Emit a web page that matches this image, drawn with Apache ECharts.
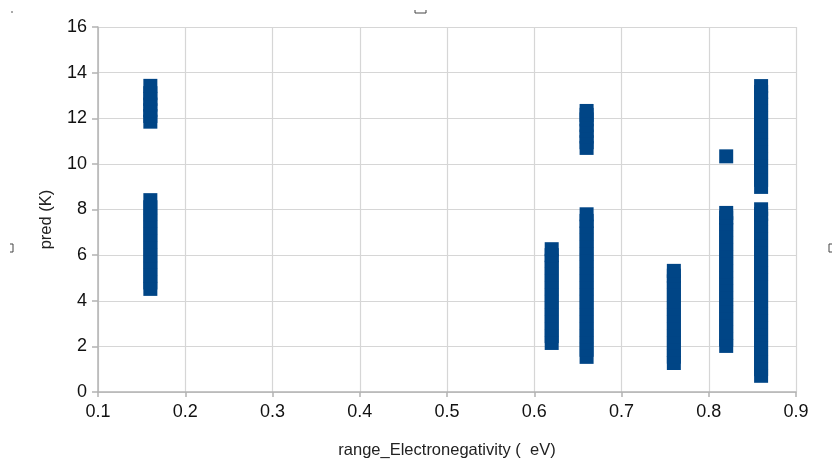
<!DOCTYPE html>
<html>
<head>
<meta charset="utf-8">
<script src="https://cdn.jsdelivr.net/npm/echarts@6/dist/echarts.min.js"></script>
<style>
html,body{margin:0;padding:0;background:#fff;}
#chart{width:832px;height:461px;}
</style>
</head>
<body>
<div id="chart"></div>
<script>
// x positions of the point columns
const columnX = [0.16, 0.16, 0.62, 0.66, 0.66, 0.76, 0.82, 0.82, 0.86, 0.86];
// y values (pred, K) of the points in each column
const col016a = [11.85, 12.1, 12.35, 12.6, 12.85, 13.1, 13.42];
const col016b = [4.52, 4.8, 5.1, 5.4, 5.7, 6.0, 6.3, 6.6, 6.9, 7.2, 7.5, 7.8, 8.1, 8.41];
const col062 = [2.15, 2.45, 2.75, 3.05, 3.35, 3.65, 3.95, 4.25, 4.55, 4.85, 5.15, 5.45, 5.75, 6.0, 6.26];
const col066a = [10.7, 10.95, 11.2, 11.45, 11.7, 11.95, 12.15, 12.32];
const col066b = [1.54, 1.85, 2.15, 2.45, 2.75, 3.05, 3.35, 3.65, 3.95, 4.25, 4.55, 4.85, 5.15, 5.45, 5.75, 6.05, 6.35, 6.65, 6.95, 7.25, 7.5, 7.79];
const col076 = [1.27, 1.55, 1.85, 2.15, 2.45, 2.75, 3.05, 3.35, 3.65, 3.95, 4.25, 4.55, 4.85, 5.1, 5.31];
const col082a = [10.33];
const col082b = [2.02, 2.3, 2.6, 2.9, 3.2, 3.5, 3.8, 4.1, 4.4, 4.7, 5.0, 5.3, 5.6, 5.9, 6.2, 6.5, 6.8, 7.1, 7.4, 7.65, 7.85];
const col086a = [8.99, 9.3, 9.6, 9.9, 10.2, 10.5, 10.8, 11.1, 11.4, 11.7, 12.0, 12.3, 12.6, 12.9, 13.15, 13.41];
const col086b = [0.71, 1.0, 1.3, 1.6, 1.9, 2.2, 2.5, 2.8, 3.1, 3.4, 3.7, 4.0, 4.3, 4.6, 4.9, 5.2, 5.5, 5.8, 6.1, 6.4, 6.7, 7.0, 7.3, 7.6, 7.8, 8.01];
const columnsY = [col016a, col016b, col062, col066a, col066b, col076, col082a, col082b, col086a, col086b];

const xTicks = ['0.1','0.2','0.3','0.4','0.5','0.6','0.7','0.8','0.9'];
const yTicks = ['0','2','4','6','8','10','12','14','16'];
const xName = 'range_Electronegativity (  eV)';
const yName = 'pred (K)';

const points = [];
columnsY.forEach((ys, i) => ys.forEach(y => points.push([columnX[i], y])));

const chart = echarts.init(document.getElementById('chart'), null, {renderer: 'canvas'});
const font = '"Liberation Sans", Arial, sans-serif';
chart.setOption({
  animation: false,
  backgroundColor: '#ffffff',
  grid: {left: 98, right: 36, top: 27, bottom: 69, containLabel: false, outerBoundsMode: 'none'},
  xAxis: {
    type: 'value', min: 0.1, max: 0.9, interval: 0.1,
    name: xName, nameLocation: 'middle', nameGap: 50,
    nameTextStyle: {fontFamily: font, fontSize: 16.5, color: '#222'},
    axisLine: {show: true, onZero: false, lineStyle: {color: '#b3b3b3', width: 1.5}},
    axisTick: {show: true, length: 5, lineStyle: {color: '#b3b3b3', width: 1.5}},
    axisLabel: {fontFamily: font, fontSize: 18, color: '#111', margin: 11,
      formatter: v => xTicks[Math.round((v - 0.1) * 10)]},
    splitLine: {show: true, lineStyle: {color: '#d6d6d6', width: 1.2}}
  },
  yAxis: {
    type: 'value', min: 0, max: 16, interval: 2,
    name: yName, nameLocation: 'middle', nameGap: 43, nameRotate: 90,
    nameTextStyle: {fontFamily: font, fontSize: 16.5, color: '#222', padding: [0, 20, 0, 0]},
    axisLine: {show: true, lineStyle: {color: '#b3b3b3', width: 1.5}},
    axisTick: {show: true, length: 6, lineStyle: {color: '#b3b3b3', width: 1.5}},
    axisLabel: {fontFamily: font, fontSize: 18, color: '#111', margin: 11,
      formatter: v => yTicks[Math.round(v / 2)]},
    splitLine: {show: true, lineStyle: {color: '#d6d6d6', width: 1.2}}
  },
  series: [{
    type: 'scatter',
    data: points,
    symbol: 'rect',
    symbolSize: 14,
    itemStyle: {color: '#004586', opacity: 1},
    silent: true
  }],
  graphic: [
    {type: 'polyline', shape: {points: [[415, 10], [415, 13], [426, 13], [426, 10]]}, style: {stroke: '#444', lineWidth: 1, fill: null}},
    {type: 'polyline', shape: {points: [[10, 244], [13, 244], [13, 252], [10, 252]]}, style: {stroke: '#444', lineWidth: 1, fill: null}},
    {type: 'polyline', shape: {points: [[832, 244], [829, 244], [829, 252], [832, 252]]}, style: {stroke: '#444', lineWidth: 1, fill: null}},
    {type: 'line', shape: {x1: 11, y1: 12, x2: 13, y2: 12}, style: {stroke: '#555', lineWidth: 1}}
  ]
});
</script>
</body>
</html>
